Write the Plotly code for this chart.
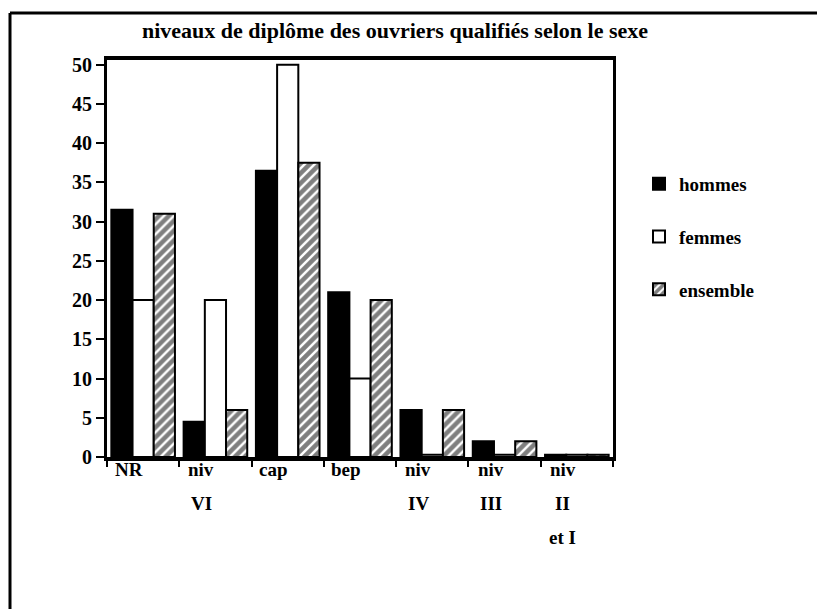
import plotly.graph_objects as go

categories = ["NR", "niv VI", "cap", "bep", "niv IV", "niv III", "niv II et I"]
label_lines = [["NR"], ["niv", "VI"], ["cap"], ["bep"], ["niv", "IV"], ["niv", "III"], ["niv", "II", "et I"]]
hommes = [31.5, 4.5, 36.5, 21, 6, 2, 0.3]
femmes = [20, 20, 50, 10, 0.3, 0.3, 0.3]
ensemble = [31, 6, 37.5, 20, 6, 2, 0.3]
y_ticks = [0, 5, 10, 15, 20, 25, 30, 35, 40, 45, 50]

FONT = "Liberation Serif"
W, H = 825, 609
OFF = 8  # browser body margin
L, R, T, B = 99, 220, 52, 160
PW, PH = W - L - R, H - T - B

x = list(range(len(categories)))

fig = go.Figure()
fig.add_trace(go.Bar(x=x, y=hommes, name="<b>hommes</b>", legendgroup="h",
                     marker=dict(color="black", line=dict(color="black", width=2))))
fig.add_trace(go.Bar(x=x, y=femmes, name="<b>femmes</b>", legendgroup="f",
                     marker=dict(color="white", line=dict(color="black", width=2))))
fig.add_trace(go.Bar(x=x, y=ensemble, name="<b>ensemble</b>", legendgroup="e",
                     marker=dict(color="white", line=dict(color="black", width=2),
                                 pattern=dict(shape="/", fgcolor="black", bgcolor="white",
                                              solidity=0.65, size=7))))

def px_x(p):
    return (p - OFF - L) / PW

def px_y(p):
    return (H - B - (p - OFF)) / PH

annotations = []
for i, lines in enumerate(label_lines):
    for j, txt in enumerate(lines):
        annotations.append(dict(x=i, xref="x", y=0, yref="paper", yanchor="top",
                                yshift=0 - 34 * j, xshift=-14, text="<b>" + txt + "</b>",
                                showarrow=False,
                                font=dict(family=FONT, size=19, color="black")))

shapes = [
    dict(type="line", xref="paper", yref="paper", x0=px_x(10), x1=px_x(10),
         y0=px_y(13), y1=px_y(620), line=dict(color="black", width=3)),
    dict(type="line", xref="paper", yref="paper", x0=px_x(10), x1=px_x(840),
         y0=px_y(13), y1=px_y(13), line=dict(color="black", width=3)),
]

fig.update_layout(
    width=W, height=H,
    margin=dict(l=L, r=R, t=T, b=B, autoexpand=False),
    paper_bgcolor="white", plot_bgcolor="white",
    barmode="group", bargap=0.12, bargroupgap=0.0,
    title=dict(text="<b>niveaux de diplôme des ouvriers qualifiés selon le sexe</b>",
               x=px_x(395), xanchor="center", xref="paper", y=1 - (30 - OFF) / H, yanchor="middle",
               font=dict(family=FONT, size=22, color="black")),
    font=dict(family=FONT, size=19, color="black"),
    xaxis=dict(range=[-0.5, 6.5], showticklabels=False, ticks="outside", ticklen=6,
               tickwidth=2, tickcolor="black", tickvals=[i - 0.5 for i in range(8)],
               showline=True, linecolor="black", linewidth=4, mirror=True,
               showgrid=False, zeroline=False),
    yaxis=dict(range=[0, 50.6], tickvals=y_ticks, ticktext=["<b>%d</b>" % v for v in y_ticks],
               ticks="outside", ticklen=8, tickwidth=2,
               tickcolor="black", showline=True, linecolor="black", linewidth=3, mirror=True,
               showgrid=False, zeroline=False,
               tickfont=dict(family=FONT, size=20, color="black")),
    legend=dict(x=px_x(639), y=px_y(165), xanchor="left", yanchor="top",
                traceorder="grouped", tracegroupgap=25,
                font=dict(family=FONT, size=19, color="black"),
                bgcolor="rgba(0,0,0,0)"),
    annotations=annotations,
    shapes=shapes,
)

fig.write_html("out.html")
